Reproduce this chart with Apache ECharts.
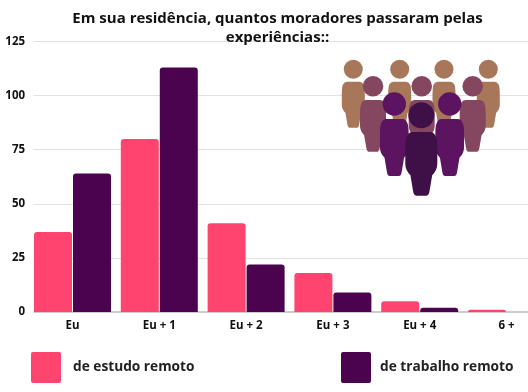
<!DOCTYPE html>
<html><head><meta charset="utf-8">
<style>html,body{margin:0;padding:0;background:#fff}#c{width:528px;height:392px}</style>
<script src="https://cdn.jsdelivr.net/npm/echarts@6/dist/echarts.min.js"></script>
</head><body><div id="c"></div>
<script>
const categories = ['Eu','Eu + 1','Eu + 2','Eu + 3','Eu + 4','6 +'];
const estudoRemoto = [37,80,41,18,5,1];
const trabalhoRemoto = [64,113,22,9,2,0];
const seriesNames = ['de estudo remoto','de trabalho remoto'];
const titleText = 'Em sua residência, quantos moradores passaram pelas\nexperiências::';
const FONT = '"Open Sans", sans-serif';
const PINK = '#FF4470', DARK = '#4B0350';
const legendIcon = 'path://M2 0H28Q30 0 30 2V29Q30 31 28 31H2Q0 31 0 29V2Q0 0 2 0Z';

const bodyPath = 'M22 0H78Q100 0 100 24V50Q100 60 84 68L76 92Q74 100 66 100H34Q26 100 24 92L16 68Q0 60 0 50V24Q0 0 22 0Z';
echarts.graphic.registerShape('personBody', echarts.graphic.extendPath(bodyPath, {}));
function person(cx, headY, r, top, bottom, w, color){
  return [
    {type:'personBody', z:50, x:cx-w/2, y:top, scaleX:w/100, scaleY:(bottom-top)/100, style:{fill:color}},
    {type:'circle', z:50, shape:{cx:cx, cy:headY, r:r}, style:{fill:color}}
  ];
}
const people = [].concat(
  ...[353.3,399.7,444,488.3].map(x=>person(x,69.3,9.5,81.7,127.7,23,'#A8775A')),
  ...[373,421.7,472.7].map(x=>person(x,86.3,10.3,100,151.7,26,'#84475F')),
  ...[394.3,449.7].map(x=>person(x,104,11.7,119,176,28.7,'#5C1460')),
  person(421.3,115.3,13,132,195.7,32,'#3F1048')
);

const chart = echarts.init(document.getElementById('c'), null, {renderer:'canvas'});
chart.setOption({
  animation:false,
  backgroundColor:'#fff',
  title:{text:titleText, left:272.5, top:4, textAlign:'center',
    textStyle:{fontFamily:FONT, fontWeight:700, fontSize:15, lineHeight:19, color:'#111'}},
  legend:[
    {data:[seriesNames[0]], left:31, top:352, padding:0, itemWidth:30, itemHeight:31, icon:legendIcon, itemGap:0,
      textStyle:{fontFamily:FONT, fontWeight:700, fontSize:13.7, color:'#222', padding:[0,0,0,7]}},
    {data:[seriesNames[1]], left:341, top:352, padding:0, itemWidth:30, itemHeight:31, icon:legendIcon, itemGap:0,
      textStyle:{fontFamily:FONT, fontWeight:700, fontSize:13.7, color:'#222', padding:[0,0,0,4]}}
  ],
  grid:{left:29.1, top:41.5, width:520.8, height:270.5, containLabel:false, outerBoundsMode:'none'},
  xAxis:{type:'category',
    data:categories,
    axisLine:{lineStyle:{color:'#cccccc', width:2}},
    axisTick:{show:false},
    axisLabel:{interval:0, hideOverlap:false, margin:8, fontFamily:FONT, fontWeight:700, fontSize:11.5, color:'#111'}},
  yAxis:{type:'value', min:0, max:125, interval:25,
    axisLine:{show:false}, axisTick:{show:false},
    splitLine:{lineStyle:{color:'#e2e2e2', width:1}},
    axisLabel:{margin:4, fontFamily:FONT, fontWeight:700, fontSize:11.5, color:'#111'}},
  series:[
    {name:seriesNames[0], type:'bar', data:estudoRemoto, barWidth:38, barGap:'2.6%',
      itemStyle:{color:PINK, borderRadius:[3,3,0,0]}},
    {name:seriesNames[1], type:'bar', data:trabalhoRemoto, barWidth:38, barGap:'2.6%',
      itemStyle:{color:DARK, borderRadius:[3,3,0,0]}}
  ],
  graphic:[
    {type:'rect', z:40, shape:{x:28,y:38,width:5.5,height:276}, style:{fill:'#fff'}},
    ...people
  ]
});
</script></body></html>
